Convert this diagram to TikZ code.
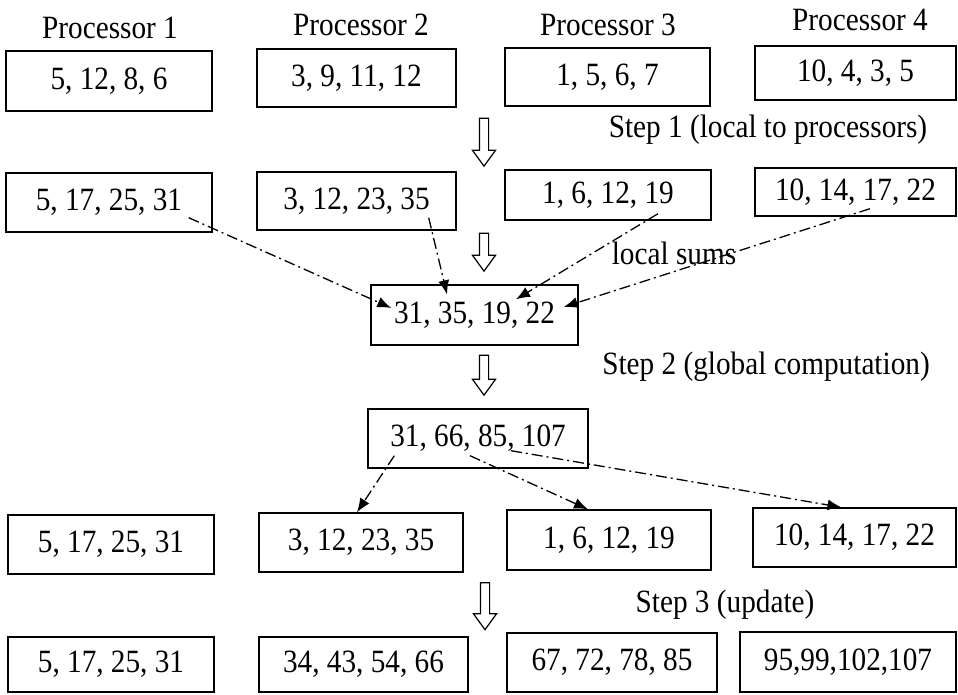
\documentclass[tikz,border=0pt]{standalone}
\usepackage{fontspec}
\setmainfont[FakeStretch=0.9]{Liberation Serif}
\usepackage{tikz}
\usetikzlibrary{arrows.meta,shapes.arrows}
\tikzstyle{vbox}=[draw, line width=1.4pt, inner sep=0pt, minimum width=205pt, minimum height=58pt]
\tikzstyle{dd}=[line width=1.3pt, dash pattern=on 11pt off 4pt on 2pt off 4pt,
-{Latex[length=14pt,width=11pt]}]
\tikzstyle{blk}=[single arrow, draw, line width=1.2pt, rotate=-90, inner xsep=0pt, inner ysep=4pt,
minimum width=22pt, single arrow head extend=7pt, single arrow tip angle=72]
\tikzstyle{txt}=[inner sep=0pt]

\begin{document}
\begin{tikzpicture}[x=1pt,y=-1pt,font=\fontsize{32.5}{36}\selectfont]
\useasboundingbox (0,0) rectangle (958,694);

\node[txt] (p1) at (110,28) {Processor 1};
\node[txt] (p2) at (361,25) {Processor 2};
\node[txt] (p3) at (608,25) {Processor 3};
\node[txt] (p4) at (860,20) {Processor 4};

\node[vbox, minimum width=206pt, minimum height=60pt] (a1) at (109,81) {5, 12, 8, 6};
\node[vbox, minimum width=199pt] (a2) at (356.5,78) {3, 9, 11, 12};
\node[vbox] (a3) at (607.5,77) {1, 5, 6, 7};
\node[vbox, minimum width=201pt, minimum height=54pt] (a4) at (855.5,73) {10, 4, 3, 5};

\node[blk, minimum height=48pt] (d1) at (484,139) {};
\node[txt] (step1) at (768,130) {Step 1 (local to processors)};

\node[vbox, minimum width=206pt, minimum height=59pt] (s1) at (109,202.5) {5, 17, 25, 31};
\node[vbox, minimum width=199pt] (s2) at (356.5,201) {3, 12, 23, 35};
\node[vbox, minimum width=206pt, minimum height=50pt] (s3) at (608,195) {1, 6, 12, 19};
\node[vbox, minimum width=201pt, minimum height=48pt] (s4) at (855.5,192) {10, 14, 17, 22};

\node[blk, minimum height=38pt] (d2) at (484,249) {};
\node[txt] (lsums) at (674,253) {local sums};

\node[vbox, minimum width=207pt, minimum height=60pt] (sums) at (474.5,315) {31, 35, 19, 22};

\node[blk, minimum height=40pt] (d3) at (484,372) {};
\node[txt] (step2) at (766,367) {Step 2 (global computation)};

\node[vbox, minimum width=220pt, minimum height=59pt] (glob) at (478,438.5) {31, 66, 85, 107};

\node[vbox, minimum width=206pt, minimum height=59pt] (c1) at (111,544.5) {5, 17, 25, 31};
\node[vbox, minimum width=204pt, minimum height=59pt] (c2) at (361,542.5) {3, 12, 23, 35};
\node[vbox, minimum width=204pt, minimum height=60pt] (c3) at (609,540) {1, 6, 12, 19};
\node[vbox, minimum width=203pt, minimum height=59pt] (c4) at (854.5,537.5) {10, 14, 17, 22};

\node[blk, minimum height=47pt] (d4) at (485,603) {};
\node[txt] (step3) at (725,605) {Step 3 (update)};

\node[vbox, minimum width=206pt, minimum height=55pt] (u1) at (111,664.5) {5, 17, 25, 31};
\node[vbox, minimum width=209pt, minimum height=55pt] (u2) at (363.5,664.5) {34, 43, 54, 66};
\node[vbox, minimum width=210pt, minimum height=59pt] (u3) at (612,662.5) {67, 72, 78, 85};
\node[vbox, minimum width=216pt, minimum height=60pt] (u4) at (848,662) {95,99,102,107};

%local sums
\draw[dd] ([xshift=-24pt,yshift=15pt]s1.south east) -- ([xshift=21pt,yshift=7pt]sums.west);
\draw[dd] ([xshift=-28pt,yshift=13pt]s2.south east) -- ([xshift=-27.5pt,yshift=-10pt]sums.north);
\draw[dd] ([xshift=50pt,yshift=7pt]s3.south) -- ([xshift=41.5pt,yshift=-15pt]sums.north);
\draw[dd] ([xshift=14.5pt,yshift=8pt]s4.south) -- ([xshift=-15pt,yshift=8pt]sums.east);

%global results
\draw[dd] ([xshift=27pt,yshift=13pt]glob.south west) -- ([xshift=-4pt]c2.north);
\draw[dd] ([xshift=-8pt,yshift=13pt]glob.south) -- ([xshift=-21pt]c3.north);
\draw[dd] ([xshift=33pt,yshift=18pt]glob.south) -- ([xshift=-13pt]c4.north);

\end{tikzpicture}
\end{document}
